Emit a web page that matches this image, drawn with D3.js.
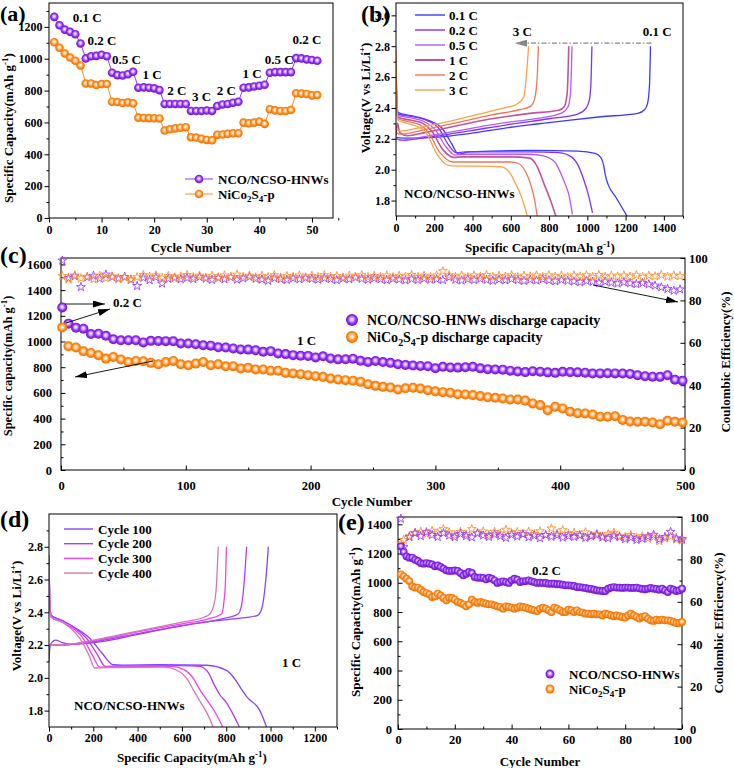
<!DOCTYPE html>
<html>
<head>
<meta charset="utf-8">
<script src="https://cdn.jsdelivr.net/npm/d3@7"></script>
<style>
  body { margin: 0; background: #fff; }
  text { font-family: "Liberation Serif", "Times New Roman", serif; font-weight: bold; fill: #000; }
</style>
</head>
<body>
<svg id="fig" width="734" height="768"></svg>
<script>
// ---------- (a) rate capability ----------
const aCycles = d3.range(1, 52);
const aNCO = [1263,1210,1183,1169,1154,1096, 1002,1016,1018,1025,1016, 912,897,895,903,918,
  818,820,818,814,803, 716,716,716,716,716, 672,672,672,675,672, 703,713,716,724,730,
  818,820,826,830,837, 912,916,916,916,916, 1004,1002,996,992,987];
const aNCSp = [1104,1069,1033,1008,987,958, 845,845,835,841,841, 730,728,722,726,720,
  630,628,627,626,625, 549,557,563,567,570, 507,505,497,490,488, 522,524,528,532,532,
  599,595,599,605,591, 683,676,672,672,678, 783,781,779,770,772];
const aRateLabels = [
  {t: '0.1 C', c: 4.5, v: 1230}, {t: '0.2 C', c: 7.3, v: 1085}, {t: '0.5 C', c: 12, v: 970},
  {t: '1 C', c: 17.8, v: 870}, {t: '2 C', c: 22.5, v: 770}, {t: '3 C', c: 27.2, v: 735},
  {t: '2 C', c: 31.9, v: 770}, {t: '1 C', c: 36.8, v: 880}, {t: '0.5 C', c: 41, v: 970},
  {t: '0.2 C', c: 46.3, v: 1090}
];

// ---------- (b) charge/discharge profiles at different rates: [capacity, voltage] ----------
const bRates = ['0.1 C', '0.2 C', '0.5 C', '1 C', '2 C', '3 C'];
const bColors = ['#3a3aff', '#8230ff', '#b458ff', '#c0559c', '#f27555', '#ffa048'];
const bDis01 = [[0,2.72],[4,2.45],[12,2.37],[80,2.35],[170,2.32],[240,2.27],[290,2.17],[327,2.1],[380,2.115],[700,2.125],[950,2.12],[1040,2.105],[1070,2.08],[1085,2.03],[1095,1.96],[1110,1.9],[1150,1.82],[1207,1.7]];
const bDis02 = [[0,2.72],[4,2.44],[12,2.36],[80,2.345],[160,2.32],[222,2.27],[275,2.16],[315,2.11],[360,2.115],[700,2.115],[850,2.11],[920,2.08],[955,2.02],[980,1.94],[1005,1.84],[1027,1.72]];
const bDis05 = [[0,2.7],[4,2.43],[12,2.35],[80,2.335],[150,2.31],[205,2.26],[260,2.15],[310,2.095],[360,2.1],[700,2.1],[770,2.09],[830,2.05],[860,1.98],[880,1.92],[905,1.83],[922,1.71]];
const bDis1 = [[0,2.68],[4,2.42],[10,2.34],[80,2.32],[140,2.3],[187,2.25],[245,2.13],[301,2.08],[350,2.083],[600,2.083],[700,2.075],[738,2.02],[773,1.91],[808,1.8],[835,1.7]];
const bDis2 = [[0,2.7],[4,2.42],[10,2.33],[70,2.31],[125,2.29],[170,2.24],[230,2.11],[297,2.05],[350,2.05],[600,2.05],[640,2.04],[680,1.98],[705,1.9],[725,1.8],[738,1.7]];
const bDis3 = [[0,2.78],[4,2.45],[10,2.32],[60,2.3],[110,2.28],[152,2.25],[215,2.1],[260,2.035],[292,2.025],[546,2.02],[598,1.975],[625,1.91],[651,1.84],[670,1.77],[686,1.7]];
const bChg01 = [[0,2.21],[30,2.205],[100,2.205],[200,2.21],[388,2.235],[600,2.275],[738,2.296],[900,2.32],[1071,2.343],[1264,2.365],[1300,2.39],[1315,2.43],[1325,2.55],[1330,2.8]];
const bChg02 = [[0,2.2],[30,2.19],[80,2.195],[200,2.215],[400,2.255],[600,2.295],[800,2.33],[950,2.36],[995,2.4],[1012,2.46],[1020,2.6],[1024,2.8]];
const bChg05 = [[0,2.2],[30,2.19],[80,2.2],[200,2.225],[400,2.27],[600,2.31],[780,2.34],[870,2.37],[900,2.41],[912,2.5],[920,2.8]];
const bChg1 = [[0,2.22],[8,2.3],[20,2.24],[60,2.22],[150,2.24],[300,2.28],[500,2.33],[700,2.365],[850,2.385],[880,2.41],[895,2.5],[903,2.8]];
const bChg2 = [[0,2.24],[20,2.23],[60,2.235],[150,2.26],[300,2.3],[500,2.355],[650,2.39],[703,2.41],[725,2.46],[738,2.6],[744,2.8]];
const bChg3 = [[0,2.27],[20,2.25],[60,2.255],[150,2.28],[300,2.32],[450,2.365],[580,2.405],[625,2.42],[668,2.47],[682,2.62],[693,2.8]];
const bDis = [bDis01, bDis02, bDis05, bDis1, bDis2, bDis3];
const bChg = [bChg01, bChg02, bChg05, bChg1, bChg2, bChg3];

// ---------- (c) long cycling at 1 C ----------
const cCycles = [1].concat(d3.range(6, 499, 6));
const cNCO = [1265, 1139,1108,1100,1058,1061,1045,1018,1010,1010,1010,
  993,1005,1004,1003,1002,985,984,979,971,968, 955,953,946,938,937,932,920,925,907,902,
  894,889,888,876,885,868,861,862,866,850, 841,849,840,834,824,818,813,810,808,792,
  803,798,797,800,803,791,785,782,781,773, 766,762,769,765,760,756,764,762,760,757,
  751,752,753,752,751,748,738,730,726,725, 738,702,694];
const cNCSp = [1110, 963,953,924,911,893,867,880,860,841,849,
  847,834,823,841,849,823,815,828,841,815, 823,808,808,790,795,782,782,772,772,756,
  751,746,738,730,725,712,704,699,694,686, 668,655,647,642,627,636,640,634,621,612,
  606,601,590,588,583,575,566,562,557,549, 549,540,518,505,466,492,479,453,442,440,
  432,414,414,419,390,377,375,375,370,357, 383,375,370];
const ceCyclesC = d3.range(1, 500, 5);
const ceNCOc = [98.8,90.6,91.4,86.3,90.9,91.6,90.3,92.2,91.0,90.4,
  91.1,89.9,86.8,90.7,89.6,90.9,88.0,90.2,90.8,90.0,
  90.6,90.1,91.0,90.3,89.7,90.6,90.0,90.9,89.8,90.4,
  91.1,90.2,89.9,89.3,90.5,90.0,89.7,90.4,90.0,90.6,
  90.2,89.8,90.5,90.1,89.6,90.3,90.0,90.8,90.2,89.8,
  90.4,90.0,89.6,90.2,89.9,89.5,90.1,89.7,90.3,89.8,
  90.0,89.6,90.9,89.8,89.4,90.0,89.6,90.2,89.7,89.3,
  89.9,89.5,90.1,89.6,89.2,89.8,89.4,90.0,89.5,89.1,
  89.7,89.3,89.0,88.6,89.2,88.8,88.3,88.9,88.4,88.0,
  88.6,88.1,87.7,88.2,87.6,87.0,86.2,85.4,84.6,85.2];
const ceNCSpC = [91.5,90.0,91.8,90.4,91.2,90.0,91.6,90.5,91.3,90.1,
  90.8,89.6,91.0,92.0,91.2,91.8,90.6,91.5,90.4,91.3,
  92.0,91.0,91.7,90.8,91.6,90.9,91.8,91.0,92.2,91.1,
  91.7,90.9,91.6,91.0,91.9,90.8,91.5,91.1,91.8,90.9,
  91.6,91.0,91.9,91.1,91.5,90.8,91.7,91.2,91.9,91.0,
  91.6,91.1,91.8,91.0,91.6,91.2,92.0,91.1,91.7,91.0,
  91.8,93.8,91.9,91.2,91.7,91.0,91.8,91.3,92.0,91.1,
  91.6,91.2,91.9,91.0,91.7,91.3,91.8,91.1,91.9,91.2,
  91.7,91.0,91.8,91.3,91.9,91.1,92.0,91.2,91.7,91.3,
  91.8,91.2,91.9,91.0,91.7,91.4,92.0,91.2,91.8,91.5];

// ---------- (d) profiles at different cycles, 1 C ----------
const dLabels = ['Cycle 100', 'Cycle 200', 'Cycle 300', 'Cycle 400'];
const dColors = ['#8644ff', '#b13cff', '#ea46ee', '#d676b6'];
const dDis100 = [[0,2.75],[4,2.45],[10,2.38],[60,2.35],[125,2.3],[185,2.24],[240,2.15],[290,2.08],[330,2.078],[500,2.08],[711,2.077],[801,2.046],[832,2.005],[862,1.945],[892,1.885],[952,1.8],[982,1.7]];
const dDis200 = [[0,2.75],[4,2.45],[10,2.38],[60,2.35],[120,2.3],[170,2.24],[215,2.15],[255,2.07],[300,2.072],[600,2.075],[680,2.07],[720,2.03],[745,1.96],[770,1.9],[800,1.85],[830,1.78],[859,1.7]];
const dDis300 = [[0,2.75],[4,2.45],[10,2.37],[60,2.34],[110,2.3],[155,2.24],[195,2.14],[230,2.065],[280,2.068],[550,2.07],[610,2.05],[650,2.0],[680,1.93],[710,1.87],[750,1.79],[784,1.7]];
const dDis400 = [[0,2.75],[4,2.45],[10,2.37],[60,2.34],[100,2.3],[140,2.24],[180,2.14],[207,2.06],[260,2.063],[520,2.065],[580,2.045],[620,2.0],[650,1.93],[680,1.86],[715,1.78],[741,1.7]];
const dChg100 = [[0,2.1],[5,2.2],[30,2.23],[60,2.215],[100,2.205],[230,2.22],[400,2.265],[531,2.3],[700,2.34],[832,2.36],[940,2.38],[960,2.42],[975,2.55],[985,2.7],[990,2.8]];
const dChg200 = [[0,2.15],[5,2.2],[60,2.2],[200,2.22],[400,2.27],[600,2.32],[780,2.36],[854,2.39],[870,2.45],[882,2.6],[892,2.8]];
const dChg300 = [[0,2.2],[60,2.2],[200,2.225],[400,2.28],[600,2.33],[720,2.36],[779,2.39],[790,2.47],[797,2.6],[801,2.8]];
const dChg400 = [[0,2.2],[60,2.2],[200,2.23],[400,2.285],[600,2.34],[700,2.37],[726,2.39],[745,2.45],[755,2.55],[764,2.8]];
const dDis = [dDis100, dDis200, dDis300, dDis400];
const dChg = [dChg100, dChg200, dChg300, dChg400];

// ---------- (e) cycling at 0.2 C ----------
const eCycles = d3.range(1, 101);
const eNCO = [1249,1211,1181,1172,1172,1158,1149,1135,1131,1135,
  1131,1126,1113,1119,1108,1097,1085,1081,1081,1085,
  1081,1067,1051,1062,1074,1067,1040,1035,1035,1033,
  1024,1035,1028,1017,999,1005,1010,1005,999,1017,
  1028,1021,1005,1010,1012,1017,1010,1005,999,1001,
  999,999,994,994,994,990,990,987,983,983,
  981,978,971,971,967,965,960,958,953,948,
  946,944,944,960,967,971,967,967,965,967,
  967,965,965,967,962,958,956,960,965,960,
  958,953,960,948,937,960,953,944,948,960];
const eNCSp = [1058,1044,1028,1012,976,967,967,953,937,930,
  921,903,907,926,914,896,880,898,896,885,
  869,862,853,839,853,885,869,862,869,862,
  857,853,853,846,839,835,823,839,835,830,
  823,830,839,835,830,823,816,812,807,823,
  830,823,812,800,830,823,812,800,800,816,
  812,800,812,800,796,789,789,784,789,784,
  784,777,789,784,777,771,777,771,766,762,
  777,789,777,766,755,766,771,755,743,739,
  748,743,748,743,743,739,732,725,725,732];
const ceCyclesE = [1].concat(d3.range(2, 101, 2));
const ceNCOe = [99.2,85.8,90.5,92.3,91.0,92.8,91.5,90.6,92.4,91.2,90.5,
  92.0,91.0,90.4,92.2,91.3,90.6,91.8,91.0,90.2,91.6,
  90.8,91.9,90.5,91.2,90.0,91.5,90.7,91.4,90.3,91.0,
  90.6,91.3,90.2,90.9,91.5,90.4,90.0,91.2,90.5,89.6,
  90.3,89.2,89.8,90.8,91.6,89.5,90.6,93.0,90.0,89.6];
const ceNCSpE = [87.5,89.2,91.0,92.6,93.0,92.0,93.5,92.4,94.3,92.8,91.5,
  93.0,91.8,94.3,92.5,93.2,91.6,93.0,92.2,94.0,92.4,
  92.9,91.8,93.1,92.0,93.3,91.5,94.6,92.2,93.8,92.0,
  92.5,91.4,92.8,91.2,92.1,90.8,91.9,92.6,91.0,90.6,
  91.5,90.2,91.0,89.8,90.6,88.6,89.9,90.8,89.4,89.0];

const PURPLE = '#9a33ff', ORANGE = '#ff8c1f';

// ---------- helpers ----------
const svg = d3.select('#fig');
const defs = svg.append('defs');

function ballGrad(id, c0, c1, c2, c3) {
  const g = defs.append('radialGradient').attr('id', id)
    .attr('cx', '50%').attr('cy', '50%').attr('r', '55%').attr('fx', '48%').attr('fy', '42%');
  g.append('stop').attr('offset', '0%').attr('stop-color', c0);
  g.append('stop').attr('offset', '30%').attr('stop-color', c1);
  g.append('stop').attr('offset', '62%').attr('stop-color', c2);
  g.append('stop').attr('offset', '100%').attr('stop-color', c3);
}
ballGrad('ballP', '#ffffff', '#d7a8ff', '#8c2cf0', '#6a10c8');
ballGrad('ballO', '#ffffff', '#ffd2a0', '#ff8a18', '#e56a00');

function marker(id, color) {
  defs.append('marker').attr('id', id).attr('viewBox', '0 0 12 7')
    .attr('refX', 12).attr('refY', 3.5).attr('markerWidth', 12).attr('markerHeight', 7)
    .attr('markerUnits', 'userSpaceOnUse').attr('orient', 'auto')
    .append('path').attr('d', 'M0,0L12,3.5L0,7z').attr('fill', color);
}
marker('ahK', '#000');
marker('ahG', '#888');

// rich text: parts = [[str, 'sup'|'sub'|null], ...]
function rich(sel, parts, fs) {
  let shift = 0;
  parts.forEach(([s, k]) => {
    const t = sel.append('tspan').text(s);
    const want = k === 'sup' ? -0.38 * fs : k === 'sub' ? 0.25 * fs : 0;
    if (want !== shift) { t.attr('dy', want - shift); shift = want; }
    if (k) t.attr('font-size', 0.7 * fs);
  });
  return sel;
}
function label(x, y, parts, fs, anchor, rot) {
  const t = svg.append('text').attr('font-size', fs).attr('text-anchor', anchor || 'start');
  if (rot) t.attr('transform', `translate(${x},${y}) rotate(${rot})`);
  else t.attr('x', x).attr('y', y);
  return rich(t, typeof parts === 'string' ? [[parts, null]] : parts, fs);
}

function panel(box, xDom, yDom, yRDom) {
  const p = {box};
  p.x = d3.scaleLinear().domain(xDom).range([box.l, box.r]);
  p.y = d3.scaleLinear().domain(yDom).range([box.b, box.t]);
  if (yRDom) p.yR = d3.scaleLinear().domain(yRDom).range([box.b, box.t]);
  p.g = svg.append('g');
  p.clip = 'clip' + Math.round(box.l) + Math.round(box.t);
  defs.append('clipPath').attr('id', p.clip).append('rect')
    .attr('x', box.l).attr('y', box.t).attr('width', box.r - box.l).attr('height', box.b - box.t);
  p.plot = p.g.append('g').attr('clip-path', `url(#${p.clip})`);
  return p;
}

function styleAxis(a, fs) {
  a.select('.domain').remove();
  a.attr('font-family', null).attr('font-size', null);
  a.selectAll('line').attr('stroke', '#000').attr('stroke-width', 1);
  a.selectAll('text').attr('font-size', fs).attr('fill', '#000');
}

function axes(p, o) {
  const b = p.box, s = o.inward ? -1 : 1, fs = o.fs || 12;
  const put = (gen, tr) => { const a = p.g.append('g').attr('transform', tr).call(gen); styleAxis(a, fs); return a; };
  put(d3.axisBottom(p.x).tickValues(o.xMaj).tickSize(4.5 * s).tickPadding(o.xPad).tickFormat(d3.format('d')), `translate(0,${b.b})`);
  put(d3.axisBottom(p.x).tickValues(o.xMin).tickSize(2.5 * s).tickFormat(''), `translate(0,${b.b})`);
  put(d3.axisLeft(p.y).tickValues(o.yMaj).tickSize(4.5 * s).tickPadding(o.yPad).tickFormat(o.yFmt || d3.format('d')), `translate(${b.l},0)`);
  put(d3.axisLeft(p.y).tickValues(o.yMin).tickSize(2.5 * s).tickFormat(''), `translate(${b.l},0)`);
  if (p.yR) {
    put(d3.axisRight(p.yR).tickValues(o.yRMaj).tickSize(4.5 * s).tickPadding(o.yRPad).tickFormat(d3.format('d')), `translate(${b.r},0)`);
    put(d3.axisRight(p.yR).tickValues(o.yRMin).tickSize(2.5 * s).tickFormat(''), `translate(${b.r},0)`);
  }
  p.g.append('rect').attr('x', b.l).attr('y', b.t).attr('width', b.r - b.l).attr('height', b.b - b.t)
    .attr('fill', 'none').attr('stroke', '#000').attr('stroke-width', 1);
}

function balls(g, xs, ys, px, py, r, grad) {
  g.append('g').selectAll('circle').data(xs).join('circle')
    .attr('cx', d => px(d)).attr('cy', (d, i) => py(ys[i])).attr('r', r)
    .attr('fill', `url(#${grad})`);
}
function stars(g, xs, ys, px, py, size, color) {
  const path = d3.symbol(d3.symbolStar, size)();
  g.append('g').selectAll('path').data(xs).join('path')
    .attr('d', path).attr('transform', (d, i) => `translate(${px(d)},${py(ys[i])})`)
    .attr('fill', 'none').attr('stroke', color).attr('stroke-width', 0.9);
}
function profile(g, p, pts, color, w) {
  const line = d3.line().x(d => p.x(d[0])).y(d => p.y(d[1])).curve(d3.curveMonotoneX);
  g.append('path').attr('d', line(pts)).attr('fill', 'none').attr('stroke', color)
    .attr('stroke-width', w || 1.3).attr('stroke-linejoin', 'round');
}
const capUnit = [['Specific Capacity(mAh g', null], ['-1', 'sup'], [')', null]];
const liUnit = [['Voltage(V vs Li/Li', null], ['+', 'sup'], [')', null]];
const odd = (a, b, st) => d3.range(a, b + 1e-9, st);

// ================= (a) =================
const A = panel({l: 49, r: 333, t: 3, b: 218}, [0, 54], [0, 1350]);
axes(A, {xMaj: odd(0, 50, 10), xMin: odd(5, 55, 10), yMaj: odd(0, 1200, 200), yMin: odd(100, 1300, 200), xPad: 3, yPad: 2});
{
  const ln = d3.line().x((d, i) => A.x(aCycles[i])).y(d => A.y(d));
  A.plot.append('path').attr('d', ln(aNCO)).attr('fill', 'none').attr('stroke', PURPLE).attr('stroke-width', 1);
  A.plot.append('path').attr('d', ln(aNCSp)).attr('fill', 'none').attr('stroke', ORANGE).attr('stroke-width', 1);
  balls(A.plot, aCycles, aNCO, A.x, A.y, 4.3, 'ballP');
  balls(A.plot, aCycles, aNCSp, A.x, A.y, 4.3, 'ballO');
  aRateLabels.forEach(d => label(A.x(d.c), A.y(d.v), d.t, 13));
  // legend
  [[PURPLE, 'ballP', 179, [['NCO/NCSO-HNWs', null]]],
   [ORANGE, 'ballO', 194, [['NiCo', null], ['2', 'sub'], ['S', null], ['4', 'sub'], ['-p', null]]]].forEach(([c, gr, y, txt]) => {
    svg.append('line').attr('x1', 185).attr('x2', 213).attr('y1', y).attr('y2', y).attr('stroke', c).attr('stroke-width', 1);
    svg.append('circle').attr('cx', 199).attr('cy', y).attr('r', 4.3).attr('fill', `url(#${gr})`);
    label(218, y + 4.5, txt, 13);
  });
}
label(191, 252, 'Cycle Number', 13, 'middle');
label(13, 128, capUnit, 13, 'middle', -90);

// ================= (b) =================
const B = panel({l: 396, r: 683, t: 3, b: 216}, [0, 1500], [1.7, 3.08]);
axes(B, {xMaj: odd(0, 1400, 200), xMin: odd(100, 1500, 200), yMaj: odd(1.8, 3.0, 0.2), yMin: odd(1.9, 2.9, 0.2),
  xPad: 2.5, yPad: 1.5, yFmt: d3.format('.1f')});
bRates.forEach((r, i) => {
  profile(B.plot, B, bDis[i], bColors[i], i === 3 ? 1.6 : 1.3);
  profile(B.plot, B, bChg[i], bColors[i], i === 3 ? 1.6 : 1.3);
  const y = 15 + i * 15;
  svg.append('line').attr('x1', 415).attr('x2', 445).attr('y1', y).attr('y2', y)
    .attr('stroke', bColors[i]).attr('stroke-width', i === 3 ? 2 : 1.4);
  label(449, y + 4.5, r, 13);
});
B.plot.append('line').attr('x1', B.x(1335)).attr('x2', B.x(622)).attr('y1', B.y(2.82)).attr('y2', B.y(2.82))
  .attr('stroke', '#888').attr('stroke-width', 1.2).attr('stroke-dasharray', '5,2,1.5,2').attr('marker-end', 'url(#ahG)');
label(B.x(610), 36, '3 C', 13);
label(B.x(1290), 36, '0.1 C', 13);
label(404, 198, 'NCO/NCSO-HNWs', 13);
label(540, 252, capUnit, 13, 'middle');
label(370, 98, liUnit, 13, 'middle', -90);

// ================= (c) =================
const C = panel({l: 61, r: 685, t: 258, b: 470}, [0, 500], [0, 1650], [0, 100]);
axes(C, {inward: true, xMaj: odd(0, 500, 100), xMin: odd(50, 450, 100), yMaj: odd(0, 1600, 200), yMin: odd(100, 1500, 200),
  yRMaj: odd(0, 100, 20), yRMin: odd(10, 90, 20), xPad: 11, yPad: 9, yRPad: 4, fs: 12.5});
stars(C.g, ceCyclesC, ceNCOc, C.x, C.yR, 24, '#9a3cff');
stars(C.g, ceCyclesC, ceNCSpC, C.x, C.yR, 24, '#ff9030');
balls(C.g, cCycles, cNCO, C.x, C.y, 5, 'ballP');
balls(C.g, cCycles, cNCSp, C.x, C.y, 5, 'ballO');
[[65, 304, 105, 304], [66, 323, 110, 309], [153, 361, 75, 377], [593, 285, 678, 302]].forEach(([x1, y1, x2, y2]) => {
  svg.append('line').attr('x1', x1).attr('y1', y1).attr('x2', x2).attr('y2', y2)
    .attr('stroke', '#000').attr('stroke-width', 0.9).attr('marker-end', 'url(#ahK)');
});
label(113, 307, '0.2 C', 13);
label(297, 345, '1 C', 13);
svg.append('circle').attr('cx', 352).attr('cy', 320).attr('r', 6).attr('fill', 'url(#ballP)');
svg.append('circle').attr('cx', 352).attr('cy', 337).attr('r', 6).attr('fill', 'url(#ballO)');
label(367, 325, 'NCO/NCSO-HNWs discharge capacity', 14);
label(367, 342, [['NiCo', null], ['2', 'sub'], ['S', null], ['4', 'sub'], ['-p discharge capacity', null]], 14);
label(372, 506, 'Cycle Number', 13, 'middle');
label(12, 366, [['Specific capacity(mAh g', null], ['-1', 'sup'], [')', null]], 12.5, 'middle', -90);
label(730, 362, 'Coulombic Efficiency(%)', 13, 'middle', -90);

// ================= (d) =================
const D = panel({l: 49, r: 337, t: 514, b: 727}, [0, 1300], [1.7, 3.0]);
axes(D, {xMaj: odd(0, 1200, 200), xMin: odd(100, 1300, 200), yMaj: odd(1.8, 2.8, 0.2), yMin: odd(1.9, 2.9, 0.2),
  xPad: 2, yPad: 1.5, yFmt: d3.format('.1f')});
dLabels.forEach((n, i) => {
  profile(D.plot, D, dDis[i], dColors[i]);
  profile(D.plot, D, dChg[i], dColors[i]);
  const y = 529 + i * 14.7;
  svg.append('line').attr('x1', 64).attr('x2', 93).attr('y1', y).attr('y2', y).attr('stroke', dColors[i]).attr('stroke-width', 1.4);
  label(98, y + 4.5, n, 13);
});
label(282, 667, '1 C', 13);
label(74, 710, 'NCO/NCSO-HNWs', 13);
label(192, 762, capUnit, 13, 'middle');
label(21, 616, liUnit, 13, 'middle', -90);

// ================= (e) =================
const E = panel({l: 398, r: 682, t: 517, b: 729}, [0, 100], [0, 1450], [0, 100]);
axes(E, {inward: true, xMaj: odd(0, 100, 20), xMin: odd(10, 90, 20), yMaj: odd(0, 1400, 200), yMin: odd(100, 1300, 200),
  yRMaj: odd(0, 100, 20), yRMin: odd(10, 90, 20), xPad: 6, yPad: 6, yRPad: 8, fs: 12.5});
stars(E.g, ceCyclesE, ceNCSpE, E.x, E.yR, 24, '#ff9030');
stars(E.g, ceCyclesE, ceNCOe, E.x, E.yR, 24, '#9a3cff');
balls(E.g, eCycles, eNCO, E.x, E.y, 3.9, 'ballP');
balls(E.g, eCycles, eNCSp, E.x, E.y, 3.9, 'ballO');
label(532, 575, '0.2 C', 13);
svg.append('circle').attr('cx', 550).attr('cy', 674).attr('r', 4.5).attr('fill', 'url(#ballP)');
svg.append('circle').attr('cx', 550).attr('cy', 689).attr('r', 4.5).attr('fill', 'url(#ballO)');
label(569, 678.5, 'NCO/NCSO-HNWs', 13);
label(569, 693.5, [['NiCo', null], ['2', 'sub'], ['S', null], ['4', 'sub'], ['-p', null]], 13);
label(540, 766, 'Cycle Number', 13, 'middle');
label(360, 622, capUnit, 13, 'middle', -90);
label(723, 623, 'Coulombic Efficiency(%)', 13, 'middle', -90);

// panel letters
[['(a)', 0, 21, 22], ['(b)', 361, 22, 24], ['(c)', 0, 263, 24], ['(d)', 0, 527, 24], ['(e)', 338, 530, 24]]
  .forEach(([t, x, y, fs]) => label(x, y, t, fs));
</script>
</body>
</html>
